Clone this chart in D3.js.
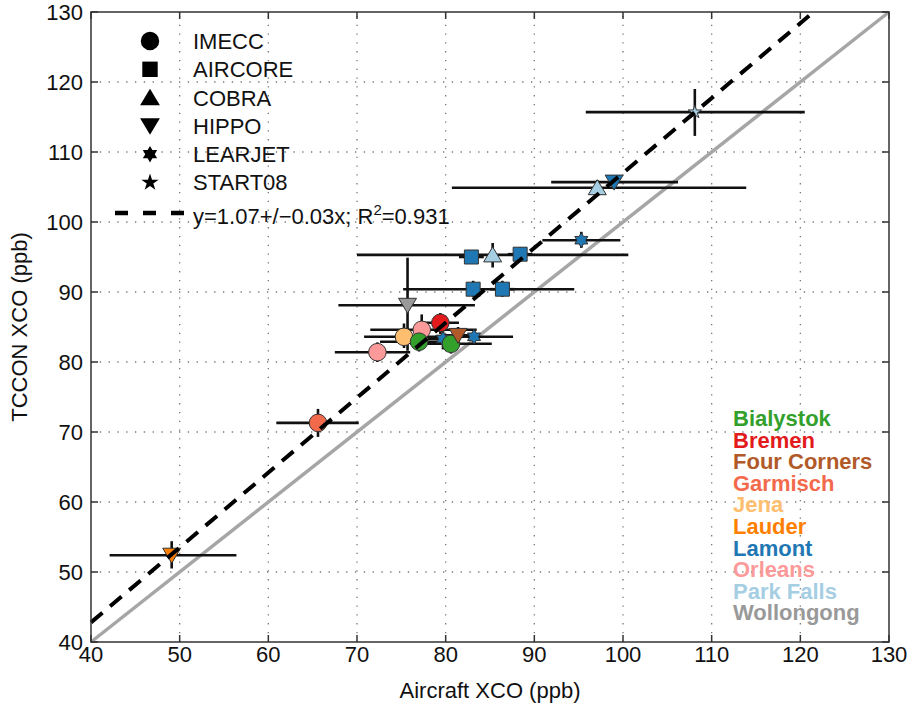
<!DOCTYPE html>
<html>
<head>
<meta charset="utf-8">
<title>TCCON vs aircraft XCO</title>
<script src="https://cdn.jsdelivr.net/npm/d3@7"></script>
<style>
  body { margin: 0; background: #fff; }
  text { font-family: "Liberation Sans", Arial, sans-serif; fill: #111; }
</style>
</head>
<body>
<div id="chart"></div>
<script>
// sites and their colours
const siteNames = ["Bialystok", "Bremen", "Four Corners", "Garmisch", "Jena", "Lauder", "Lamont", "Orleans", "Park Falls", "Wollongong"];
const siteColors = ["#33a02c", "#e31a1c", "#b15928", "#f26a4b", "#fdbf6f", "#ff7f00", "#1f78b4", "#fb9a99", "#a6cee3", "#999999"];
const campaignNames = ["IMECC", "AIRCORE", "COBRA", "HIPPO", "LEARJET", "START08"];

const xTicks = [40, 50, 60, 70, 80, 90, 100, 110, 120, 130];
const yTicks = [40, 50, 60, 70, 80, 90, 100, 110, 120, 130];
const fitSlope = 1.07;

// one entry per comparison
const pointSite = ["Lauder", "Garmisch", "Orleans", "Jena", "Orleans", "Bialystok", "Bremen", "Lamont", "Bialystok", "Four Corners", "Lamont", "Wollongong", "Park Falls", "Lamont", "Lamont", "Lamont", "Lamont", "Lamont", "Park Falls", "Lamont", "Park Falls"];
const pointCampaign = ["HIPPO", "IMECC", "IMECC", "IMECC", "IMECC", "IMECC", "IMECC", "LEARJET", "IMECC", "HIPPO", "LEARJET", "HIPPO", "COBRA", "AIRCORE", "AIRCORE", "AIRCORE", "AIRCORE", "LEARJET", "COBRA", "HIPPO", "START08"];
const aircraftXCO = [49.1, 65.6, 72.3, 75.3, 77.3, 77.0, 79.4, 79.7, 80.6, 81.4, 83.2, 75.7, 85.3, 82.9, 88.4, 83.1, 86.4, 95.3, 97.1, 99.0, 108.1];
const tcconXCO = [52.4, 71.3, 81.4, 83.6, 84.6, 82.9, 85.6, 83.3, 82.6, 83.8, 83.6, 88.1, 95.3, 95.0, 95.4, 90.4, 90.4, 97.4, 104.9, 105.7, 115.7];
const aircraftLow = [42.1, 60.9, 67.5, 70.8, 71.5, 72.6, 77.5, 78.0, 76.0, 79.5, 78.8, 67.9, 70.0, 81.5, 87.0, 75.2, 85.0, 90.9, 80.7, 91.9, 95.8];
const aircraftHigh = [56.4, 70.2, 76.0, 79.8, 83.5, 81.5, 81.5, 81.5, 85.2, 83.5, 87.6, 83.3, 100.6, 84.3, 89.8, 94.5, 87.8, 99.7, 113.9, 106.2, 120.5];
const tcconLow = [50.5, 69.3, 80.0, 82.0, 82.8, 81.5, 84.0, 81.8, 81.2, 82.5, 82.5, 81.6, 93.5, 94.0, 94.4, 89.3, 89.3, 96.3, 104.0, 105.0, 112.3];
const tcconHigh = [54.4, 73.3, 82.8, 85.5, 86.8, 84.3, 87.0, 84.8, 84.0, 85.0, 84.7, 94.9, 97.0, 96.0, 96.4, 91.6, 91.6, 98.6, 106.0, 106.5, 119.0];

const points = aircraftXCO.map((v, i) => ({
  site: pointSite[i], campaign: pointCampaign[i],
  x: v, y: tcconXCO[i],
  x0: aircraftLow[i], x1: aircraftHigh[i], y0: tcconLow[i], y1: tcconHigh[i]
}));

const width = 913, height = 706;
const margin = { top: 12, right: 24, bottom: 64, left: 91 };

const x = d3.scaleLinear().domain([40, 130]).range([margin.left, width - margin.right]);
const y = d3.scaleLinear().domain([40, 130]).range([height - margin.bottom, margin.top]);
const color = d3.scaleOrdinal().domain(siteNames).range(siteColors);

const svg = d3.select("#chart").append("svg")
  .attr("width", width).attr("height", height);

// marker shapes, s = scale
function starPath(n, R, r) {
  const p = d3.path();
  for (let k = 0; k < 2 * n; k++) {
    const a = -Math.PI / 2 + k * Math.PI / n;
    const rad = k % 2 === 0 ? R : r;
    if (k === 0) p.moveTo(rad * Math.cos(a), rad * Math.sin(a));
    else p.lineTo(rad * Math.cos(a), rad * Math.sin(a));
  }
  p.closePath();
  return p.toString();
}
function markerPath(c, s) {
  if (c === "IMECC") {
    const p = d3.path(); p.arc(0, 0, 8.8 * s, 0, 2 * Math.PI); p.closePath(); return p.toString();
  }
  if (c === "AIRCORE") { const h = 7 * s; return `M${-h},${-h}H${h}V${h}H${-h}Z`; }
  if (c === "COBRA") return `M0,${-8 * s}L${9 * s},${7 * s}L${-9 * s},${7 * s}Z`;
  if (c === "HIPPO") return `M0,${8 * s}L${9 * s},${-7 * s}L${-9 * s},${-7 * s}Z`;
  if (c === "LEARJET") return starPath(6, 7.5 * s, 7.5 * s / Math.sqrt(3));
  return starPath(5, 7 * s, 7 * s * 0.382);
}

// grid
const plot = svg.append("g");
plot.append("g").selectAll("line").data(xTicks.slice(1, -1)).join("line")
  .attr("x1", d => x(d)).attr("x2", d => x(d))
  .attr("y1", y(40)).attr("y2", y(130))
  .attr("stroke", "#777").attr("stroke-width", 1.3).attr("stroke-dasharray", "1.3,7.5");
plot.append("g").selectAll("line").data(yTicks.slice(1, -1)).join("line")
  .attr("y1", d => y(d)).attr("y2", d => y(d))
  .attr("x1", x(40)).attr("x2", x(130))
  .attr("stroke", "#777").attr("stroke-width", 1.3).attr("stroke-dasharray", "1.3,7.5");

// 1:1 line
plot.append("line")
  .attr("x1", x(40)).attr("y1", y(40)).attr("x2", x(130)).attr("y2", y(130))
  .attr("stroke", "#a6a6a6").attr("stroke-width", 3.5);

// error bars
const err = plot.append("g").attr("stroke", "#111").attr("stroke-width", 2.6);
err.selectAll(".xe").data(points).join("line").attr("class", "xe")
  .attr("x1", d => x(d.x0)).attr("x2", d => x(d.x1))
  .attr("y1", d => y(d.y)).attr("y2", d => y(d.y));
err.selectAll(".ye").data(points).join("line").attr("class", "ye")
  .attr("x1", d => x(d.x)).attr("x2", d => x(d.x))
  .attr("y1", d => y(d.y0)).attr("y2", d => y(d.y1));

// markers
plot.append("g").selectAll("path").data(points).join("path")
  .attr("transform", d => `translate(${x(d.x)},${y(d.y)})`)
  .attr("d", d => markerPath(d.campaign, 1))
  .attr("fill", d => color(d.site))
  .attr("stroke", "#333").attr("stroke-width", 1);

// regression line (clipped to the box)
const xEnd = 130 / fitSlope;
plot.append("line")
  .attr("x1", x(40)).attr("y1", y(40 * fitSlope))
  .attr("x2", x(xEnd)).attr("y2", y(130))
  .attr("stroke", "#000").attr("stroke-width", 4)
  .attr("stroke-dasharray", "15,10");

// box, ticks
const ax = svg.append("g").attr("stroke", "#333").attr("stroke-width", 1.5);
ax.append("rect")
  .attr("x", x(40)).attr("y", y(130))
  .attr("width", x(130) - x(40)).attr("height", y(40) - y(130))
  .attr("fill", "none");
const tl = 7;
ax.selectAll(".tb").data(xTicks).join("line").attr("class", "tb")
  .attr("x1", d => x(d)).attr("x2", d => x(d)).attr("y1", y(40)).attr("y2", y(40) - tl);
ax.selectAll(".tt").data(xTicks).join("line").attr("class", "tt")
  .attr("x1", d => x(d)).attr("x2", d => x(d)).attr("y1", y(130)).attr("y2", y(130) + tl);
ax.selectAll(".tlft").data(yTicks).join("line").attr("class", "tlft")
  .attr("y1", d => y(d)).attr("y2", d => y(d)).attr("x1", x(40)).attr("x2", x(40) + tl);
ax.selectAll(".trgt").data(yTicks).join("line").attr("class", "trgt")
  .attr("y1", d => y(d)).attr("y2", d => y(d)).attr("x1", x(130)).attr("x2", x(130) - tl);

// tick labels
svg.append("g").selectAll("text").data(xTicks).join("text")
  .attr("x", d => x(d)).attr("y", y(40) + 20)
  .attr("text-anchor", "middle").attr("font-size", 22)
  .text(d => d);
svg.append("g").selectAll("text").data(yTicks).join("text")
  .attr("x", x(40) - 8).attr("y", d => y(d)).attr("dy", "0.36em")
  .attr("text-anchor", "end").attr("font-size", 22)
  .text(d => d);

// axis titles
svg.append("text")
  .attr("x", (x(40) + x(130)) / 2).attr("y", 698)
  .attr("text-anchor", "middle").attr("font-size", 22)
  .text("Aircraft XCO (ppb)");
svg.append("text")
  .attr("transform", `translate(27,${(y(40) + y(130)) / 2}) rotate(-90)`)
  .attr("text-anchor", "middle").attr("font-size", 22)
  .text("TCCON XCO (ppb)");

// campaign legend
const leg = svg.append("g");
campaignNames.forEach((c, i) => {
  const yy = 41 + i * 28.3;
  leg.append("path")
    .attr("transform", `translate(150,${yy})`)
    .attr("d", markerPath(c, c === "IMECC" ? 1.05 : c === "START08" ? 1.3 : 1.1))
    .attr("fill", "#000");
  leg.append("text").attr("x", 193).attr("y", yy).attr("dy", "0.36em")
    .attr("font-size", 22).text(c);
});
leg.append("line")
  .attr("x1", 115).attr("x2", 184).attr("y1", 213).attr("y2", 213)
  .attr("stroke", "#000").attr("stroke-width", 4.5).attr("stroke-dasharray", "13,15");
const ft = leg.append("text").attr("x", 193).attr("y", 224).attr("font-size", 22);
ft.append("tspan").text("y=1.07+/\u22120.03x; R");
ft.append("tspan").attr("dy", -9).attr("font-size", 15).text("2");
ft.append("tspan").attr("dy", 9).text("=0.931");

// site legend
svg.append("g").selectAll("text").data(siteNames).join("text")
  .attr("x", 733).attr("y", (d, i) => 426 + i * 21.6)
  .attr("font-size", 22).attr("font-weight", "bold")
  .style("fill", d => color(d))
  .text(d => d);
</script>
</body>
</html>
